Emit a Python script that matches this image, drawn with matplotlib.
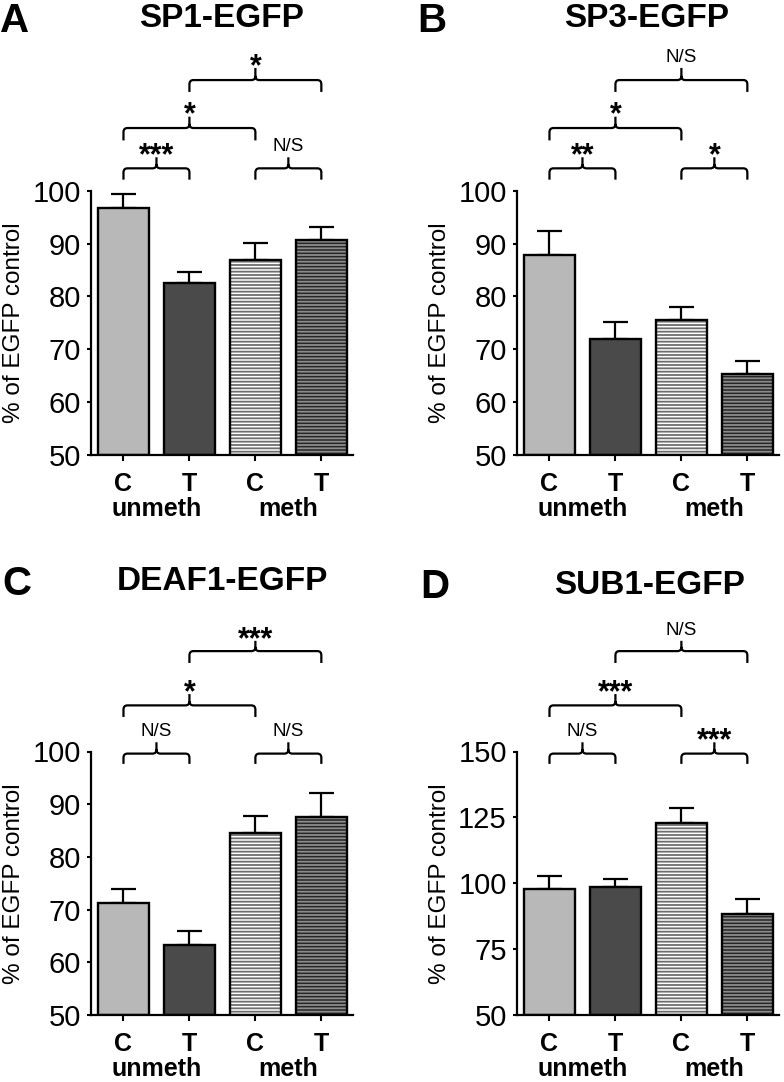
import matplotlib
matplotlib.use("Agg")
import matplotlib.pyplot as plt
from matplotlib.path import Path
from matplotlib.patches import PathPatch

plt.rcParams['font.family'] = ['Liberation Sans', 'DejaVu Sans']
plt.rcParams['hatch.linewidth'] = 1.3

# data
bar_labels = ['C', 'T', 'C', 'T']
group_labels = ['unmeth', 'meth']

sp1_mean = [96.8, 82.5, 86.9, 90.7]
sp1_err = [2.7, 2.1, 3.2, 2.4]
sp3_mean = [87.9, 72.0, 75.5, 65.2]
sp3_err = [4.5, 3.2, 2.5, 2.6]
deaf1_mean = [71.3, 63.2, 84.6, 87.5]
deaf1_err = [2.6, 2.8, 3.1, 4.7]
sub1_mean = [98.0, 98.7, 122.8, 88.3]
sub1_err = [4.6, 3.0, 5.7, 5.6]

# C-T unmeth, C-T meth, C unmeth vs C meth, T unmeth vs T meth
sig_pairs = [(0, 1), (2, 3), (0, 2), (1, 3)]
sig_level = [0, 0, 1, 2]
sp1_sig = ['***', 'N/S', '*', '*']
sp3_sig = ['**', '*', '*', 'N/S']
deaf1_sig = ['N/S', 'N/S', '*', '***']
sub1_sig = ['N/S', '***', '***', 'N/S']

face = ['#b8b8b8', '#4a4a4a', 'white', '#262626']
hatch = [None, None, '-----', '-----']
hatch_col = [None, None, '#6e6e6e', '#8c8c8c']

W, H = 784, 1082
fig = plt.figure(figsize=(W / 100, H / 100), dpi=100)
tick_font = ['Liberation Sans Narrow', 'Liberation Sans']


def bracket(ax, i, j, lev, label):
    end, top, tip = lev
    xm = (i + j) / 2
    rx, ry = 0.06, 0.016
    tr = ax.get_xaxis_transform()
    verts = [(i, end), (i, top - ry), (i, top), (i + rx, top),
             (xm - rx, top), (xm, top), (xm, top + ry), (xm, tip),
             (xm, top + ry), (xm, top), (xm + rx, top),
             (j - rx, top), (j, top), (j, top - ry), (j, end)]
    codes = [Path.MOVETO, Path.LINETO, Path.CURVE3, Path.CURVE3,
             Path.LINETO, Path.CURVE3, Path.CURVE3, Path.LINETO,
             Path.MOVETO, Path.CURVE3, Path.CURVE3,
             Path.LINETO, Path.CURVE3, Path.CURVE3, Path.LINETO]
    ax.add_patch(PathPatch(Path(verts, codes), fill=False, lw=1.6,
                           edgecolor='black', transform=tr, clip_on=False))
    if label == 'N/S':
        ax.text(xm, tip + 0.022, label, transform=tr, ha='center',
                va='baseline', fontsize=13.5)
    else:
        ax.annotate(label, xy=(xm, tip + 0.039), xycoords=tr,
                    xytext=(0, -12.4), textcoords='offset points',
                    ha='center', va='baseline', fontsize=22,
                    fontweight='bold', annotation_clip=False)


def panel(rect, mean, err, sig, ylim, yticks, levels):
    ax = fig.add_axes(rect)
    x = list(range(len(mean)))
    bars = ax.bar(x, [m - ylim[0] for m in mean], 0.78, bottom=ylim[0],
                  color=face, linewidth=0, zorder=2)
    for b, h, hc in zip(bars, hatch, hatch_col):
        if h:
            b.set_hatch(h)
            b.set_edgecolor(hc)
    ax.bar(x, [m - ylim[0] for m in mean], 0.78, bottom=ylim[0],
           fill=False, edgecolor='black', linewidth=1.7, zorder=3)
    ax.errorbar(x, mean, yerr=[[0] * len(err), err], fmt='none',
                ecolor='black', elinewidth=1.6, capsize=9, capthick=1.6,
                zorder=1)
    ax.set_xlim(-0.5, 3.48)
    ax.set_ylim(*ylim)
    ax.set_yticks(yticks)
    ax.set_yticklabels([str(t) for t in yticks], family=tick_font)
    ax.set_xticks(x)
    ax.set_xticklabels(bar_labels, fontweight='bold')
    for s in ['top', 'right']:
        ax.spines[s].set_visible(False)
    for s in ['left', 'bottom']:
        ax.spines[s].set_linewidth(1.6)
    ax.tick_params(axis='y', length=3, width=1.5, labelsize=21, pad=4)
    ax.tick_params(axis='x', length=4.3, width=1.5, labelsize=18, pad=8)
    tr = ax.get_xaxis_transform()
    for gx, g in zip([0.5, 2.5], group_labels):
        ax.text(gx, -61 / 263.5, g, transform=tr, ha='center', va='baseline',
                fontsize=18, fontweight='bold')
    ax.text(-0.29, 0.5, '% of EGFP control', transform=ax.transAxes,
            rotation=90, ha='center', va='center', fontsize=17.5)
    for (i, j), lv, lab in zip(sig_pairs, sig_level, sig):
        bracket(ax, i, j, levels[lv], lab)
    return ax


top_lev = [(1.043, 1.086, 1.128), (1.192, 1.239, 1.282), (1.376, 1.421, 1.467)]
bot_lev = [(0.953, 0.992, 1.035), (1.131, 1.175, 1.218), (1.336, 1.381, 1.420)]

aw, ah = 262.5 / W, 263.5 / H
lx, rx = 90.5 / W, 516.5 / W
ty, by = (H - 454.5) / H, (H - 1015) / H

ticks100 = [50, 60, 70, 80, 90, 100]
panel([lx, ty, aw, ah], sp1_mean, sp1_err, sp1_sig, (50, 100), ticks100, top_lev)
panel([rx, ty, aw, ah], sp3_mean, sp3_err, sp3_sig, (50, 100), ticks100, top_lev)
panel([lx, by, aw, ah], deaf1_mean, deaf1_err, deaf1_sig, (50, 100), ticks100, bot_lev)
panel([rx, by, aw, ah], sub1_mean, sub1_err, sub1_sig, (50, 150),
      [50, 75, 100, 125, 150], bot_lev)

titles = ['SP1-EGFP', 'SP3-EGFP', 'DEAF1-EGFP', 'SUB1-EGFP']
letters = ['A', 'B', 'C', 'D']
title_pos = [(222, 18.5), (647, 18.5), (222, 581), (650, 585)]
letter_pos = [(0, 20.5), (417, 21), (2, 584), (420, 587)]
for t, (tx, tyy) in zip(titles, title_pos):
    fig.text(tx / W, 1 - tyy / H, t, ha='center', va='center',
             fontsize=24, fontweight='bold')
for l, (px, py) in zip(letters, letter_pos):
    fig.text(px / W, 1 - py / H, l, ha='left', va='center',
             fontsize=29, fontweight='bold')

fig.savefig('out.png', dpi=100)
